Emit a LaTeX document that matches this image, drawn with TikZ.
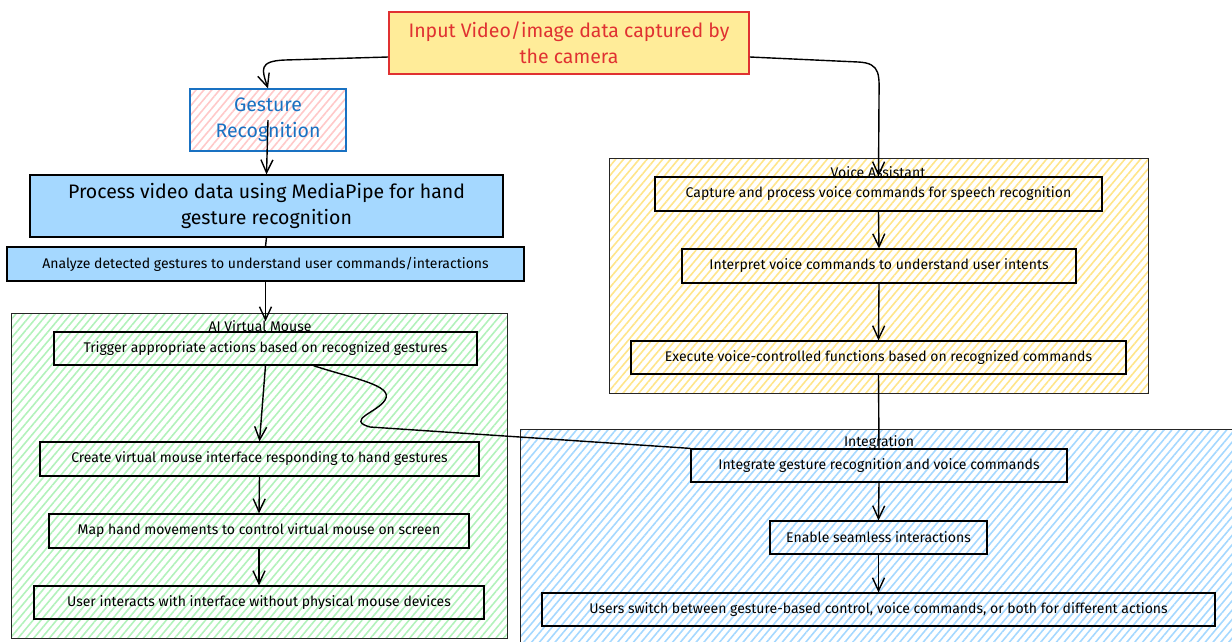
\documentclass[tikz,border=0pt]{standalone}
\usepackage{fontspec}
\setmainfont{Fira Sans}
\usetikzlibrary{arrows.meta,patterns.meta}
\definecolor{camred}{HTML}{E03131}
\definecolor{camyellow}{HTML}{FFEC99}
\definecolor{gestblue}{HTML}{1971C2}
\definecolor{gestpink}{HTML}{FFC9C9}
\definecolor{procblue}{HTML}{A5D8FF}
\definecolor{mousegreen}{HTML}{B2F2BB}
\definecolor{voiceyellow}{HTML}{FFE58A}
\definecolor{integblue}{HTML}{A5D8FF}
\tikzset{
    stage/.style={draw=black, line width=1.2pt, inner sep=0pt, font=\fontsize{14}{16}\selectfont},
    bigstage/.style={stage, align=center, font=\fontsize{19.5}{26}\selectfont},
    zone/.style={draw=black!85, line width=1pt, inner sep=0pt},
    hatch/.style={pattern={Lines[angle=50,distance=6pt,line width=1.6pt]}, pattern color=#1},
    zonelabel/.style={inner sep=0pt, font=\fontsize{14}{16}\selectfont},
    flow/.style={line width=1.4pt, -{Straight Barb[length=13pt,width=12pt]}},
    link/.style={line width=1.4pt}
}
\begin{document}
\begin{tikzpicture}[x=1pt, y=-1pt]
    \useasboundingbox (0,0) rectangle (1232,641);
    \node[zone, hatch=mousegreen, minimum width=496pt, minimum height=325pt] (mouse) at (259,475.5) {};
    \node[zone, hatch=voiceyellow, minimum width=539pt, minimum height=235pt] (voice) at (878.5,275.5) {};
    \node[zone, hatch=integblue, minimum width=730pt, minimum height=231pt] (integration) at (885,544.5) {};
    \node[zonelabel] (mouselabel) at (260,326) {AI Virtual Mouse};
    \node[zonelabel] (voicelabel) at (878,172) {Voice Assistant};
    \node[zonelabel] (integlabel) at (879,443) {Integration};
    \node[bigstage, draw=camred, line width=1.6pt, fill=camyellow, text=camred, minimum width=360pt, minimum height=62pt] (input) at (569,43) {Input Video/image data captured by\\the camera};
    \node[bigstage, draw=gestblue, text=gestblue, preaction={fill=white}, hatch=gestpink, minimum width=156pt, minimum height=62pt] (gesture) at (268,120) {Gesture\\Recognition};
    \node[bigstage, fill=procblue, minimum width=473pt, minimum height=62pt] (process) at (266.5,206) {Process video data using MediaPipe for hand\\gesture recognition};
    \node[stage, fill=procblue, minimum width=517pt, minimum height=34pt] (analyze) at (265.5,264) {Analyze detected gestures to understand user commands/interactions};
    \node[stage, preaction={fill=white}, hatch=mousegreen, minimum width=423pt, minimum height=33pt] (trigger) at (265.5,348.5) {Trigger appropriate actions based on recognized gestures};
    \node[stage, preaction={fill=white}, hatch=mousegreen, minimum width=439pt, minimum height=34pt] (create) at (259.5,459) {Create virtual mouse interface responding to hand gestures};
    \node[stage, preaction={fill=white}, hatch=mousegreen, minimum width=420pt, minimum height=34pt] (map) at (259,531) {Map hand movements to control virtual mouse on screen};
    \node[stage, preaction={fill=white}, hatch=mousegreen, minimum width=450pt, minimum height=33pt] (interacts) at (259,602.5) {User interacts with interface without physical mouse devices};
    \node[stage, preaction={fill=white}, hatch=voiceyellow, minimum width=447pt, minimum height=34pt] (capture) at (878.5,194) {Capture and process voice commands for speech recognition};
    \node[stage, preaction={fill=white}, hatch=voiceyellow, minimum width=394pt, minimum height=34pt] (interpret) at (879,266) {Interpret voice commands to understand user intents};
    \node[stage, preaction={fill=white}, hatch=voiceyellow, minimum width=495pt, minimum height=33pt] (execute) at (878.5,357.5) {Execute voice-controlled functions based on recognized commands};
    \node[stage, preaction={fill=white}, hatch=integblue, minimum width=376pt, minimum height=33pt] (integrate) at (879,465.5) {Integrate gesture recognition and voice commands};
    \node[stage, preaction={fill=white}, hatch=integblue, minimum width=217pt, minimum height=33pt] (enable) at (878.5,537.5) {Enable seamless interactions};
    \node[stage, preaction={fill=white}, hatch=integblue, minimum width=673pt, minimum height=33pt] (switch) at (878.5,609.5) {Users switch between gesture-based control, voice commands, or both for different actions};
    \draw[flow] ([yshift=-14pt]input.west) -- (285,60) .. controls (258,61) and (262,70) .. (gesture.north);
    \draw[flow] ([yshift=-14pt]input.east) -- (858,62) .. controls (882,63) and (879,76) .. (879,100) -- (capture.north);
    \draw[flow] (gesture.center) -- (process.north);
    \draw[link] (process.south) -- (analyze.north);
    \draw[flow, shorten >=10pt] (analyze.south) -- (trigger.north);
    \draw[flow] (trigger.south) -- (create.north);
    \draw[flow] (create.south) -- (map.north);
    \draw[flow] (map.south) -- (interacts.north);
    \draw[flow] (capture.south) -- (interpret.north);
    \draw[flow] (interpret.south) -- (execute.north);
    \draw[link] (execute.south) -- (integrate.north);
    \draw[flow] (integrate.south) -- (enable.north);
    \draw[flow] (enable.south) -- (switch.north);
    \draw[link] ([xshift=48pt]trigger.south) .. controls (350,378) and (395,385) .. (385,400) .. controls (378,412) and (345,420) .. (370,427) -- (integrate.north west);
\end{tikzpicture}
\end{document}
